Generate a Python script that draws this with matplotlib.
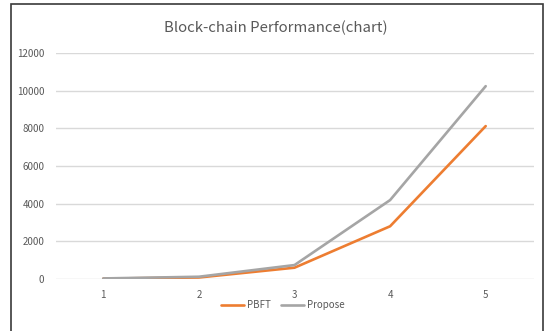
import matplotlib.pyplot as plt
from matplotlib.patches import Rectangle

plt.rcParams['font.family'] = ['Noto Sans CJK KR', 'DejaVu Sans']

rounds = [1, 2, 3, 4, 5]
pbft = [20, 80, 600, 2800, 8120]
propose = [30, 120, 740, 4190, 10240]

fig = plt.figure(figsize=(5.46, 3.31), dpi=100)
# chart frame, bottom edge runs off the canvas
fig.patches.append(Rectangle((11 / 546, -10 / 331), 532 / 546, 337 / 331,
                             transform=fig.transFigure, fill=False,
                             edgecolor='#3a3a3a', linewidth=1.2))

ax = fig.add_axes([55.5 / 546, 1 - 279 / 331, 478 / 546, 226 / 331])
ax.plot(rounds, pbft, color='#ED7D31', linewidth=1.9, label='PBFT',
        solid_capstyle='round')
ax.plot(rounds, propose, color='#A5A5A5', linewidth=1.9, label='Propose',
        solid_capstyle='round')

ax.set_xlim(0.5, 5.5)
ax.set_ylim(0, 12000)
ax.set_yticks(range(0, 12001, 2000))
ax.set_xticks(rounds)
ax.grid(axis='y', color='#D9D9D9', linewidth=1.0)
ax.set_axisbelow(True)
for s in ax.spines.values():
    s.set_visible(False)
ax.tick_params(length=0, labelsize=7, colors='#595959')
ax.tick_params(axis='y', pad=8)
ax.tick_params(axis='x', pad=8)

fig.text(276 / 546, 1 - 28 / 331, 'Block-chain Performance(chart)',
         ha='center', va='center', fontsize=10.8, color='#595959')

ax.legend(loc='center', bbox_to_anchor=(0.475, -0.115), ncol=2,
          frameon=False, fontsize=7, labelcolor='#595959', handlelength=2.4,
          handletextpad=0.3, columnspacing=1.0)

fig.savefig('out.png', dpi=100)
